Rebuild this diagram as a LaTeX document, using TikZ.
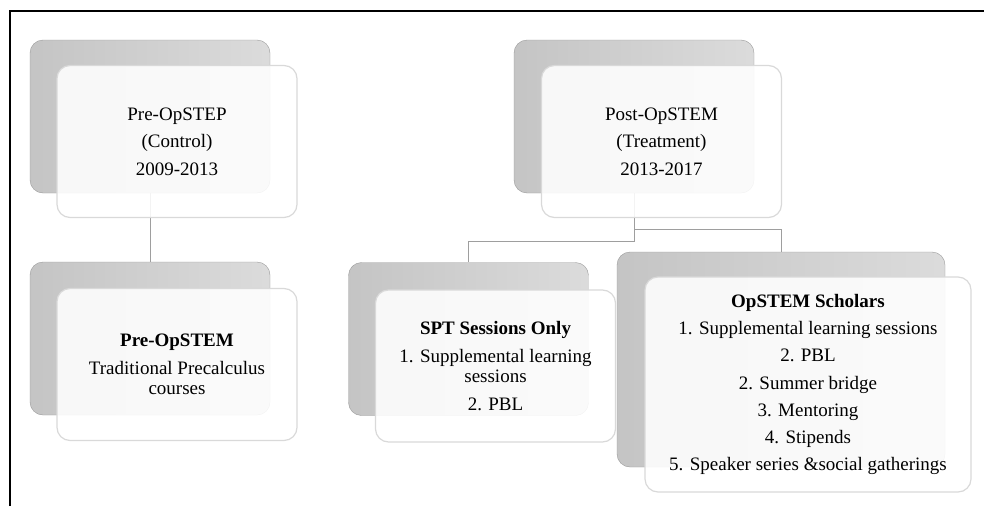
\documentclass[tikz,border=0pt]{standalone}
\usepackage{fontspec}
\setmainfont{Liberation Serif}
\usetikzlibrary{positioning}

\tikzset{
  backbox/.style={draw=black!40, rounded corners=13pt, left color=black!23, right color=black!14,
    minimum width=240pt, minimum height=153pt, inner sep=0pt},
  frontbox/.style={draw=black!15, line width=1.2pt, rounded corners=13pt, fill=white,
    fill opacity=0.88, text opacity=1, minimum width=240pt, minimum height=152pt,
    align=center, inner sep=0pt, font=\fontsize{19}{20}\selectfont},
  link/.style={draw=black!38, line width=1pt}
}

\begin{document}
\begin{tikzpicture}[x=1pt,y=-1pt]
  \useasboundingbox (0,0) rectangle (984,506);
  % frame
  \draw [line width=2pt] (10,506) -- (10,11) -- (984,11);

  % back boxes
  \node [backbox] (preb) at (150,116.5) {};
  \node [backbox] (preopb) at (150,338.5) {};
  \node [backbox] (postb) at (634,116.5) {};
  \node [backbox] (sptb) at (468.5,339) {};
  \node [backbox, minimum width=328pt, minimum height=215pt] (schb) at (781,359.5) {};

  % connectors
  \draw [link] (preb.south) -- (preopb.north);
  \draw [link] (postb.south) -- ++(0,48) -| (sptb.north);
  \draw [link] (postb.south) -- ++(0,36) -| (schb.north);

  % front boxes
  \node [frontbox] (pre) at (177,141.5) {Pre-OpSTEP\\[7.5pt](Control)\\[7.5pt]2009-2013};
  \node [frontbox] (preop) at (177,364.5) {\textbf{Pre-OpSTEM}\\[8pt]Traditional Precalculus\\courses};
  \node [frontbox] (post) at (661.5,141.5) {Post-OpSTEM\\[7.5pt](Treatment)\\[7.5pt]2013-2017};
  \node [frontbox] (spt) at (495.5,366) {\textbf{SPT Sessions Only}\\[8pt]1. Supplemental learning\\sessions\\[8pt]2. PBL};
  \node [frontbox, minimum width=326pt, minimum height=215pt] (sch) at (808,384.5)
    {\textbf{OpSTEM Scholars}\\[7.3pt]1. Supplemental learning sessions\\[7.3pt]2. PBL\\[7.3pt]2. Summer bridge\\[7.3pt]3. Mentoring\\[7.3pt]4. Stipends\\[7.3pt]5. Speaker series \&social gatherings};
\end{tikzpicture}
\end{document}
